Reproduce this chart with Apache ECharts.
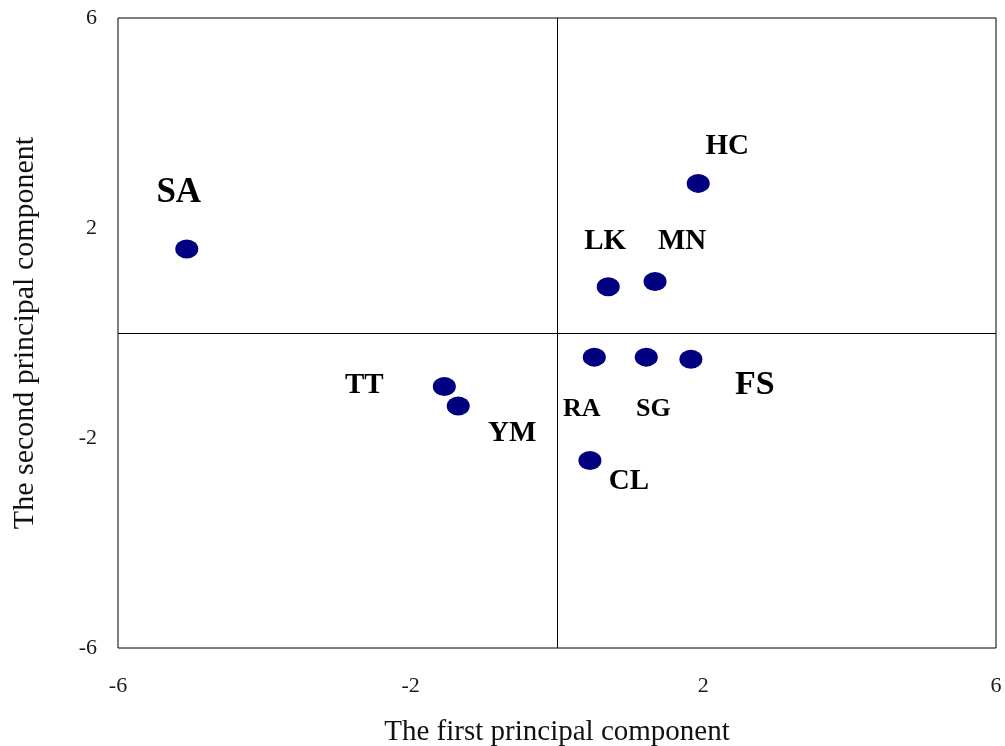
<!DOCTYPE html>
<html>
<head>
<meta charset="utf-8">
<title>Principal component scores</title>
<script src="https://cdn.jsdelivr.net/npm/echarts@6/dist/echarts.min.js"></script>
<style>
  html, body { margin: 0; padding: 0; background: #fff; overflow: hidden; }
  #chart { width: 1005px; height: 746px; }
</style>
</head>
<body>
<div id="chart"></div>
<script>
// Sites and their scores on the first two principal components
const sites = ['SA', 'HC', 'LK', 'MN', 'RA', 'SG', 'FS', 'TT', 'YM', 'CL'];
const pc1 = [-5.06, 1.93, 0.70, 1.34, 0.51, 1.22, 1.83, -1.54, -1.35, 0.45];
const pc2 = [1.60, 2.85, 0.88, 0.98, -0.46, -0.46, -0.50, -1.02, -1.39, -2.43];

// Tick values that carry a label on both axes
const xTickLabels = [-6, -2, 2, 6];
const yTickLabels = [-6, -2, 2, 6];

// Where each site name sits relative to its marker, and its size
const labelLayout = {
  SA: { offset: [-8, -56], size: 35 },
  HC: { offset: [29, -37], size: 29 },
  LK: { offset: [-3, -45], size: 29 },
  MN: { offset: [27, -40], size: 29 },
  RA: { offset: [-14, 52], size: 26, bg: true },
  SG: { offset: [7, 52], size: 26 },
  FS: { offset: [64, 26], size: 34 },
  TT: { offset: [-80, -1], size: 29 },
  YM: { offset: [54, 28], size: 29 },
  CL: { offset: [39, 21], size: 29 }
};

const serif = '"Liberation Serif", "Times New Roman", serif';

const points = sites.map((name, i) => {
  const lay = labelLayout[name];
  const label = {
    show: true,
    position: 'inside',
    offset: lay.offset,
    fontSize: lay.size,
    fontWeight: 'bold',
    fontFamily: serif,
    color: '#000',
    formatter: name
  };
  if (lay.bg) {
    label.backgroundColor = '#fff';
    label.padding = [2, 2, 2, 5];
  }
  return { name: name, value: [pc1[i], pc2[i]], label: label };
});

const chart = echarts.init(document.getElementById('chart'), null, { renderer: 'canvas' });

chart.setOption({
  animation: false,
  backgroundColor: '#fff',
  grid: {
    left: 118, right: 9, top: 18, bottom: 98,
    outerBoundsMode: 'none',
    containLabel: false,
    show: true, borderColor: '#000', borderWidth: 1, backgroundColor: 'transparent'
  },
  xAxis: {
    type: 'value', min: -6, max: 6, interval: 2,
    axisLine: { show: false }, axisTick: { show: false }, splitLine: { show: false },
    axisLabel: {
      margin: 27, fontSize: 22, fontFamily: serif, color: '#1a1a1a',
      formatter: v => (xTickLabels.includes(v) ? String(v) : '')
    },
    name: 'The first principal component',
    nameLocation: 'middle', nameGap: 70,
    nameTextStyle: { fontSize: 29, fontFamily: serif, color: '#111' }
  },
  yAxis: {
    type: 'value', min: -6, max: 6, interval: 2,
    axisLine: { show: false }, axisTick: { show: false }, splitLine: { show: false },
    axisLabel: {
      margin: 21, fontSize: 22, fontFamily: serif, color: '#1a1a1a',
      formatter: v => (yTickLabels.includes(v) ? String(v) : '')
    },
    name: 'The second principal component',
    nameLocation: 'middle', nameGap: 78,
    nameTextStyle: { fontSize: 30, fontFamily: serif, color: '#111' }
  },
  series: [
    {
      // zero reference lines dividing the plot into quadrants
      type: 'scatter',
      data: [],
      silent: true,
      markLine: {
        silent: true,
        symbol: 'none',
        label: { show: false },
        lineStyle: { color: '#000', width: 1, type: 'solid' },
        data: [{ xAxis: 0 }, { yAxis: 0 }]
      },
      z: 1
    },
    {
      type: 'scatter',
      symbol: 'circle',
      symbolSize: [23, 19],
      itemStyle: { color: '#000080', opacity: 1 },
      data: points,
      z: 3
    }
  ]
});
</script>
</body>
</html>
